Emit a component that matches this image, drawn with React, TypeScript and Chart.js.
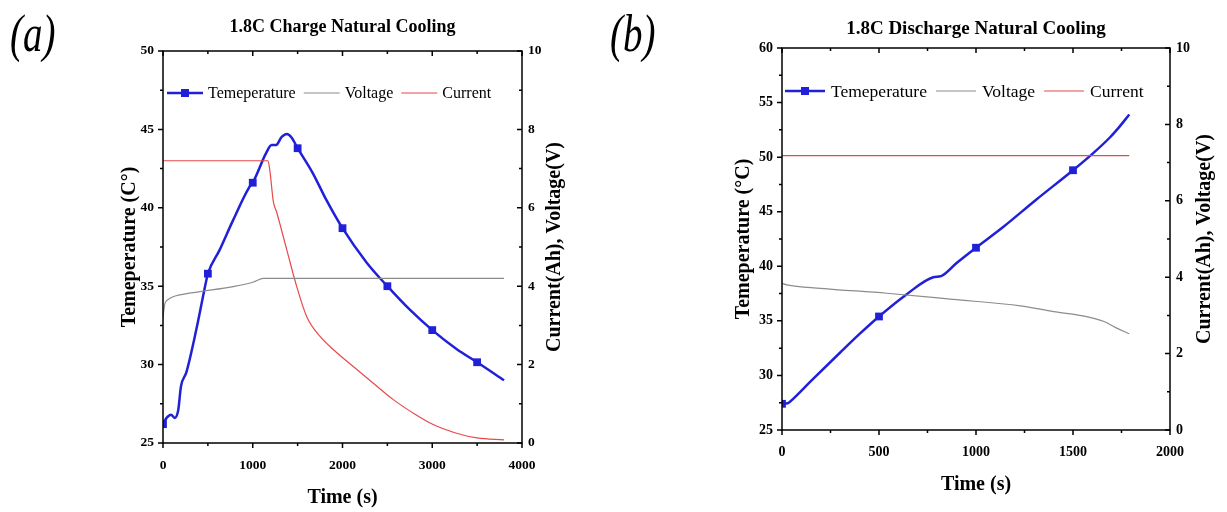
import React, { useEffect, useRef } from 'react';
import { Chart, registerables } from 'chart.js';

Chart.register(...registerables);

const FONT = "'Liberation Serif', 'Times New Roman', serif";
const TEMP_COLOR = '#2020d8';
const VOLT_COLOR = '#8c8c8c';
const CURR_COLOR = '#e8494b';

// ---------- (a) 1.8C Charge Natural Cooling ----------
const chargeTempTime = [0, 40, 90, 130, 170, 200, 260, 370, 480, 500, 630, 780, 960, 1000, 1150, 1210, 1260, 1320, 1380, 1430, 1500, 1670, 1820, 2000, 2270, 2500, 2750, 3000, 3270, 3500, 3800];
const chargeTemp = [26.2, 26.6, 26.8, 26.6, 27.1, 28.6, 29.5, 32.2, 35.3, 35.8, 37.3, 39.2, 41.3, 41.6, 43.5, 44.0, 44.0, 44.5, 44.7, 44.5, 43.8, 42.2, 40.5, 38.7, 36.5, 35.0, 33.5, 32.2, 31.0, 30.15, 29.0];
const chargeVoltTime = [0, 10, 20, 40, 70, 100, 190, 410, 780, 1000, 1120, 3800];
const chargeVolt = [3.2, 3.4, 3.55, 3.63, 3.68, 3.72, 3.78, 3.86, 3.99, 4.1, 4.2, 4.2];
const chargeCurrTime = [0, 1170, 1190, 1230, 1265, 1380, 1490, 1600, 1750, 1900, 2120, 2340, 2570, 2790, 3010, 3270, 3500, 3800];
const chargeCurr = [7.2, 7.2, 6.96, 6.15, 5.9, 4.92, 3.99, 3.23, 2.72, 2.38, 1.95, 1.53, 1.1, 0.76, 0.47, 0.25, 0.13, 0.08];

// ---------- (b) 1.8C Discharge Natural Cooling ----------
const dischargeTempTime = [0, 30, 60, 150, 300, 400, 500, 640, 780, 820, 900, 1000, 1140, 1310, 1500, 1600, 1690, 1740, 1790];
const dischargeTemp = [27.4, 27.45, 27.9, 29.5, 32.1, 33.8, 35.4, 37.4, 39.0, 39.1, 40.3, 41.7, 43.6, 46.1, 48.8, 50.3, 51.8, 52.8, 53.9];
const dischargeVoltTime = [0, 25, 200, 540, 880, 1230, 1400, 1570, 1660, 1720, 1790];
const dischargeVolt = [3.84, 3.8, 3.71, 3.58, 3.42, 3.25, 3.1, 2.97, 2.84, 2.68, 2.52];
const dischargeCurrTime = [0, 900, 1790];
const dischargeCurr = [7.18, 7.18, 7.18];

const legendLabels = ['Temeperature', 'Voltage', 'Current'];
const xAxisTitle = 'Time (s)';
const rightAxisTitle = 'Current(Ah), Voltage(V)';

const zip = (xs: number[], ys: number[]) => xs.map((x, i) => ({ x, y: ys[i] }));

const framePlugin = {
  id: 'frame',
  afterDraw(chart: any, _args: any, o: any) {
    const { ctx, chartArea: a, scales } = chart;
    ctx.save();
    ctx.strokeStyle = '#000';
    ctx.lineWidth = 1.5;
    ctx.strokeRect(a.left, a.top, a.right - a.left, a.bottom - a.top);
    const tick = (scale: any, minor: number, major: number, fn: (p: number, l: number) => void) => {
      const n = Math.round((scale.max - scale.min) / minor);
      for (let i = 0; i <= n; i++) {
        const v = scale.min + i * minor;
        const r = v / major;
        const isMajor = Math.abs(r - Math.round(r)) < 1e-6;
        fn(scale.getPixelForValue(v), isMajor ? 5 : 3);
      }
    };
    ctx.beginPath();
    tick(scales.x, o.xMinor, o.xMajor, (p, l) => {
      ctx.moveTo(p, a.bottom); ctx.lineTo(p, a.bottom + l);
      ctx.moveTo(p, a.top); ctx.lineTo(p, a.top + l);
    });
    tick(scales.y, o.yMinor, o.yMajor, (p, l) => { ctx.moveTo(a.left, p); ctx.lineTo(a.left - l, p); });
    tick(scales.y1, o.y1Minor, o.y1Major, (p, l) => { ctx.moveTo(a.right, p); ctx.lineTo(a.right - l, p); });
    ctx.stroke();

    // legend inside the plot
    const colors = [TEMP_COLOR, VOLT_COLOR, CURR_COLOR];
    const widths = [2.5, 1.2, 1.2];
    ctx.font = `${o.legendSize}px ${FONT}`;
    ctx.textBaseline = 'middle';
    ctx.textAlign = 'left';
    let lx = a.left + o.legendDx;
    const ly = a.top + o.legendDy;
    legendLabels.forEach((lab, i) => {
      ctx.beginPath();
      ctx.strokeStyle = colors[i];
      ctx.lineWidth = widths[i];
      ctx.moveTo(lx, ly); ctx.lineTo(lx + o.legendLine, ly);
      ctx.stroke();
      if (i === 0) {
        ctx.fillStyle = TEMP_COLOR;
        ctx.fillRect(lx + o.legendLine / 2 - 4, ly - 4, 8, 8);
      }
      lx += o.legendLine + o.legendGap1;
      ctx.fillStyle = '#000';
      ctx.fillText(lab, lx, ly + 1);
      lx += ctx.measureText(lab).width + o.legendGap2;
    });

    // right axis title (reads bottom to top)
    ctx.save();
    ctx.translate(o.rightTitleX, (a.top + a.bottom) / 2);
    ctx.rotate(-Math.PI / 2);
    ctx.font = `bold ${o.axisTitleSize}px ${FONT}`;
    ctx.fillStyle = '#000';
    ctx.textAlign = 'center';
    ctx.textBaseline = 'middle';
    ctx.fillText(rightAxisTitle, 0, 0);
    ctx.restore();
    ctx.restore();
  },
};

const plainLabel = (v: number | string) => String(v);

function makeConfig(p: any): any {
  const tickFont = { family: FONT, size: p.tickSize, weight: 'bold' as const };
  const axisTitleFont = { family: FONT, size: p.axisTitleSize, weight: 'bold' as const };
  return {
    type: 'line',
    data: {
      datasets: [
        { label: 'Voltage', yAxisID: 'y1', data: zip(p.vt, p.v), borderColor: VOLT_COLOR, borderWidth: 1.2, pointRadius: 0, cubicInterpolationMode: 'monotone' },
        { label: 'Current', yAxisID: 'y1', data: zip(p.ct, p.c), borderColor: CURR_COLOR, borderWidth: 1.2, pointRadius: 0, cubicInterpolationMode: 'monotone' },
        {
          label: 'Temeperature', yAxisID: 'y', data: zip(p.tt, p.t), borderColor: TEMP_COLOR, borderWidth: 2.5,
          backgroundColor: TEMP_COLOR, pointStyle: 'rect', pointBorderWidth: 0, pointBackgroundColor: TEMP_COLOR,
          pointRadius: (c: any) => (c.raw && c.raw.x % 500 === 0 ? 5.5 : 0), cubicInterpolationMode: 'monotone',
        },
      ],
    },
    options: {
      animation: false,
      responsive: false,
      events: [],
      layout: { padding: 0 },
      plugins: {
        legend: { display: false },
        tooltip: { enabled: false },
        title: {
          display: true, text: p.title, fullSize: false, color: '#000',
          font: { family: FONT, size: p.titleSize, weight: 'bold' },
          padding: { top: p.titlePadT, bottom: p.titlePadB },
        },
        frame: p.frame,
      },
      scales: {
        x: {
          type: 'linear', min: 0, max: p.xMax,
          ticks: { stepSize: p.xMajor, font: tickFont, color: '#000', padding: 14, maxRotation: 0, callback: plainLabel },
          grid: { display: false, drawTicks: false }, border: { display: false },
          title: { display: true, text: xAxisTitle, color: '#000', font: axisTitleFont, padding: { top: 0, bottom: p.xTitlePadB } },
          afterFit: (s: any) => { s.height = p.xH; },
        },
        y: {
          position: 'left', min: p.yMin, max: p.yMax,
          ticks: { stepSize: 5, font: tickFont, color: '#000', padding: 9, callback: plainLabel },
          grid: { display: false, drawTicks: false }, border: { display: false },
          title: { display: true, text: p.yTitle, color: '#000', font: axisTitleFont, padding: { top: p.yTitlePadT, bottom: 0 } },
          afterFit: (s: any) => { s.width = p.yW; },
        },
        y1: {
          position: 'right', min: 0, max: 10,
          ticks: { stepSize: 2, font: tickFont, color: '#000', padding: 6, callback: plainLabel },
          grid: { display: false, drawTicks: false }, border: { display: false },
          afterFit: (s: any) => { s.width = p.y1W; },
        },
      },
    },
    plugins: [framePlugin],
  };
}

function ChartCanvas({ config, left, width }: { config: any; left: number; width: number }) {
  const ref = useRef<HTMLCanvasElement>(null);
  useEffect(() => {
    const chart = new Chart(ref.current as HTMLCanvasElement, config);
    return () => chart.destroy();
  }, []);
  return <canvas ref={ref} width={width} height={512} style={{ position: 'absolute', left, top: 0, width, height: 512 }} />;
}

const configA = makeConfig({
  title: '1.8C Charge Natural Cooling', titleSize: 18, titlePadT: 16.7, titlePadB: 12.7,
  tickSize: 13.5, axisTitleSize: 20,
  tt: chargeTempTime, t: chargeTemp, vt: chargeVoltTime, v: chargeVolt, ct: chargeCurrTime, c: chargeCurr,
  xMax: 4000, xMajor: 1000, yMin: 25, yMax: 50, yTitle: 'Temeperature (C°)',
  xH: 69, xTitlePadB: 1.8, yW: 163, yTitlePadT: 118, y1W: 78,
  frame: {
    xMajor: 1000, xMinor: 500, yMajor: 5, yMinor: 2.5, y1Major: 2, y1Minor: 1,
    legendSize: 16, legendDx: 4, legendDy: 42, legendLine: 36, legendGap1: 5, legendGap2: 8,
    rightTitleX: 555, axisTitleSize: 20,
  },
});

const configB = makeConfig({
  title: '1.8C Discharge Natural Cooling', titleSize: 19, titlePadT: 17.3, titlePadB: 7.9,
  tickSize: 14, axisTitleSize: 20,
  tt: dischargeTempTime, t: dischargeTemp, vt: dischargeVoltTime, v: dischargeVolt, ct: dischargeCurrTime, c: dischargeCurr,
  xMax: 2000, xMajor: 500, yMin: 25, yMax: 60, yTitle: 'Temeperature (°C)',
  xH: 82, xTitlePadB: 14.8, yW: 182, yTitlePadT: 132, y1W: 57,
  frame: {
    xMajor: 500, xMinor: 250, yMajor: 5, yMinor: 2.5, y1Major: 2, y1Minor: 1,
    legendSize: 17.5, legendDx: 3, legendDy: 43, legendLine: 40, legendGap1: 6, legendGap2: 9,
    rightTitleX: 605, axisTitleSize: 20,
  },
});

const panelLabel: React.CSSProperties = {
  position: 'absolute', top: 4, fontFamily: FONT, fontStyle: 'italic', fontSize: 52, lineHeight: '60px', color: '#000',
  transform: 'scaleX(0.75)', transformOrigin: 'left top',
};

export default function App() {
  return (
    <div style={{ position: 'absolute', left: 0, top: 0, width: 1227, height: 512, background: '#fff', overflow: 'hidden' }}>
      <ChartCanvas config={configA} left={0} width={600} />
      <ChartCanvas config={configB} left={600} width={627} />
      <div style={{ ...panelLabel, left: 10 }}>(a)</div>
      <div style={{ ...panelLabel, left: 610 }}>(b)</div>
    </div>
  );
}
